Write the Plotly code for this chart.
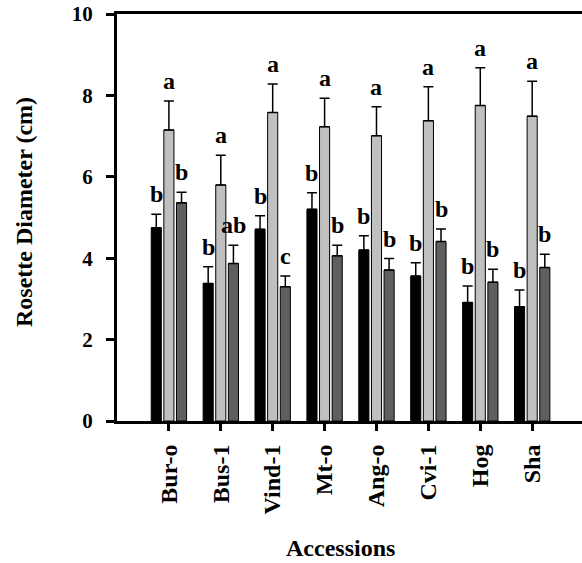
import plotly.graph_objects as go

accessions = ["Bur-o", "Bus-1", "Vind-1", "Mt-o", "Ang-o", "Cvi-1", "Hog", "Sha"]

black_vals = [4.75, 3.38, 4.71, 5.20, 4.20, 3.56, 2.91, 2.81]
black_err = [0.33, 0.41, 0.33, 0.41, 0.35, 0.33, 0.41, 0.41]
black_letters = ["b", "b", "b", "b", "b", "b", "b", "b"]

light_vals = [7.15, 5.80, 7.58, 7.23, 7.01, 7.38, 7.75, 7.49]
light_err = [0.71, 0.73, 0.70, 0.70, 0.71, 0.83, 0.93, 0.86]
light_letters = ["a", "a", "a", "a", "a", "a", "a", "a"]

dark_vals = [5.36, 3.87, 3.30, 4.06, 3.71, 4.41, 3.41, 3.77]
dark_err = [0.26, 0.45, 0.26, 0.26, 0.28, 0.31, 0.32, 0.33]
dark_letters = ["b", "ab", "c", "b", "b", "b", "b", "b"]

series = [
    (black_vals, black_err, black_letters, "#000000"),
    (light_vals, light_err, light_letters, "#c0c0c0"),
    (dark_vals, dark_err, dark_letters, "#5f5f5f"),
]

W, H = 582, 563
ML, MR, MT, MB = 117, 0, 14, 142
bargap = 0.27
nser = len(series)
slot = (1 - bargap) / nser
FONT = "Liberation Serif"

fig = go.Figure()
annotations = []
xs = list(range(len(accessions)))
for si, (vals, errs, letters, color) in enumerate(series):
    fig.add_trace(go.Bar(
        x=xs, y=vals,
        marker=dict(color=color, line=dict(color="black", width=1)),
        error_y=dict(type="data", symmetric=False, array=errs,
                     arrayminus=[0] * len(errs), color="black",
                     thickness=1.5, width=5),
        showlegend=False, hoverinfo="skip",
    ))
    off = (si - (nser - 1) / 2) * slot
    for i, (v, e, L) in enumerate(zip(vals, errs, letters)):
        annotations.append(dict(
            x=i + off, y=v + e, xref="x", yref="y", text=L,
            showarrow=False, yanchor="bottom", xanchor="center", yshift=5,
            font=dict(family=FONT, size=24, color="black", weight="bold"),
        ))

pw = W - ML - MR
ph = H - MT - MB
annotations.append(dict(
    text="Accessions", xref="paper", yref="paper",
    x=(340 - ML) / pw, y=(H - MB - 548) / ph,
    showarrow=False, xanchor="center", yanchor="middle",
    font=dict(family=FONT, size=24, color="black", weight="bold"),
))
annotations.append(dict(
    text="Rosette Diameter (cm)", xref="paper", yref="paper",
    x=(24 - ML) / pw, y=(H - MB - 212) / ph, textangle=-90,
    showarrow=False, xanchor="center", yanchor="middle",
    font=dict(family=FONT, size=24, color="black", weight="bold"),
))

fig.update_layout(
    width=W, height=H,
    margin=dict(l=ML, r=MR, t=MT, b=MB, pad=0, autoexpand=False),
    barmode="group", bargap=bargap, bargroupgap=0.2,
    plot_bgcolor="white", paper_bgcolor="white",
    annotations=annotations,
    xaxis=dict(
        tickmode="array", tickvals=xs, ticktext=accessions, automargin=False,
        range=[-1.0, 7.96], showline=True, linewidth=3, linecolor="black",
        mirror=True, ticks="outside", ticklen=7, tickwidth=3, tickcolor="black",
        tickangle=-90, showgrid=False, zeroline=False, ticklabelstandoff=4,
        tickfont=dict(family=FONT, size=24, color="black", weight="bold"),
    ),
    yaxis=dict(
        range=[0, 10], tickvals=[0, 2, 4, 6, 8, 10], automargin=False,
        showline=True, linewidth=3, linecolor="black",
        ticks="outside", ticklen=8, tickwidth=3, tickcolor="black",
        showgrid=False, zeroline=False, ticklabelstandoff=9,
        tickfont=dict(family=FONT, size=21, color="black", weight="bold"),
    ),
)

fig.write_html(
    "out.html",
    config={"displayModeBar": False},
    post_script="document.body.style.margin='0';document.body.style.overflow='hidden';",
)
